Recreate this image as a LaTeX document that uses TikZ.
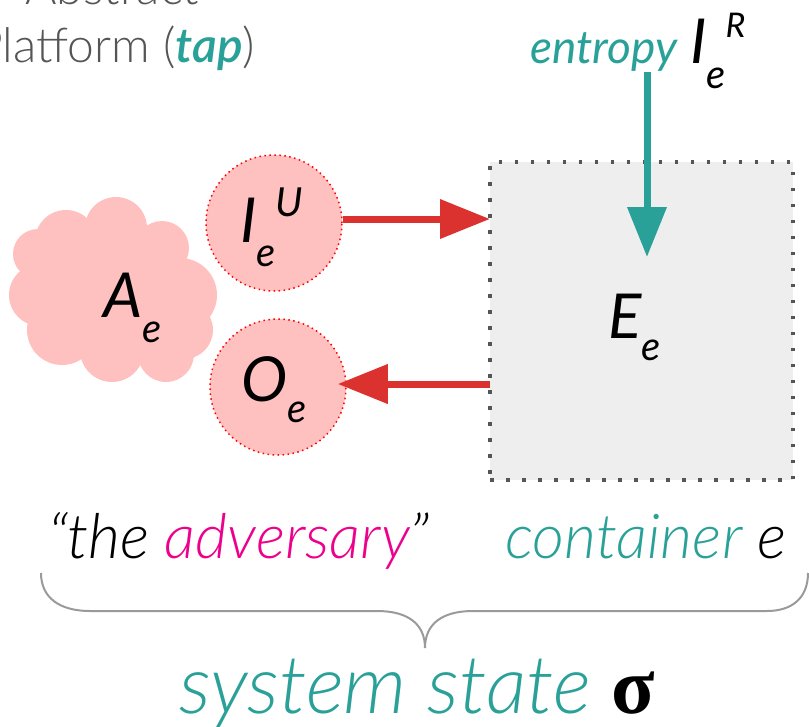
\documentclass[tikz,border=0pt]{standalone}
\usepackage{fontspec}
\setmainfont{Lato}
\newfontfamily\lightfont{Lato Light}
\newfontfamily\lightit{Lato Light Italic}
\newfontfamily\serifsym{Liberation Serif}
\usetikzlibrary{arrows.meta,fit}

\definecolor{tealc}{HTML}{2AA198}
\definecolor{redc}{HTML}{DC322F}
\definecolor{magc}{HTML}{EC008C}
\definecolor{pinkc}{HTML}{FFC0C0}
\definecolor{boxfill}{HTML}{EEEEEE}
\definecolor{dotgray}{HTML}{555555}
\definecolor{textgray}{HTML}{555555}
\definecolor{bracegray}{HTML}{9A9A9A}

% symbol with sub- and superscript set one after the other
\newcommand\fsz[1]{\fontsize{#1}{#1}\selectfont}
\newcommand\symb[5]{{\itshape\fsz{62}#1\fsz{40}\raisebox{-#2}{#3}\fsz{#5}\raisebox{26pt}{#4}}}

\begin{document}
\begin{tikzpicture}[x=1pt,y=-1pt,
  txt/.style={inner sep=0,outer sep=0,anchor=base west},
  bubble/.style={circle,fill=pinkc,draw=red,line width=1.5pt,
    dash pattern=on 1.5pt off 3.5pt,minimum size=136pt,inner sep=0},
  flow/.style={line width=7pt,-{Triangle[length=50pt,width=38pt]}},
  puff/.style={fill=pinkc,draw=none},
  container/.style={rectangle,fill=boxfill,draw=dotgray,line width=3.5pt,
    dash pattern=on 3.5pt off 12.5pt,inner sep=0,outer sep=0}]
\useasboundingbox (0,0) rectangle (809,726);
\clip (0,0) rectangle (809,726);

% title of the platform
\node[txt,anchor=base east,text=textgray] (abs) at (199,4) {\lightfont\fsz{48}Abstract};
\node[txt,anchor=base east,text=textgray] (plat) at (255,62)
  {\lightfont\fsz{48}Platform (\textcolor{tealc}{\bfseries\itshape tap})};

% the adversary cloud
\fill[puff] (112,292) ellipse [x radius=82, y radius=66];
\foreach \cx/\cy/\r in {38/254/25, 66/241/31, 116/228/31, 162/248/27,
  180/295/37, 184/330/29, 166/354/28, 112/350/32, 62/330/35, 40/295/31}
  \fill[puff] (\cx,\cy) circle[radius=\r];
\node[txt] (ae) at (103,317) {\symb{A}{25pt}{e}{}{40}};

% input and output of the adversary
\node[bubble] (iu) at (274,223) {};
\node[bubble] (oe) at (278,387) {};
\node[txt] (iul) at (240,242) {\symb{I}{24pt}{e}{U}{40}};
\node[txt] (oel) at (241,401) {\symb{O}{21pt}{e}{}{40}};

% container
\coordinate (boxnw) at (490,162);
\coordinate (boxse) at (793,480);
\node[container,fit=(boxnw)(boxse)] (box) {};
\node[txt] (eel) at (608,338) {\symb{E}{22pt}{e}{}{40}};

% entropy source
\node[txt,text=tealc] (ent) at (530,63) {\itshape\fsz{46}entropy};
\node[txt] (ir) at (690,63) {\symb{I}{25pt}{e}{R}{34}};
\coordinate (entsrc) at (647,72);
\coordinate (entin) at (647,257);
\draw[flow,tealc] (entsrc) -- (entin);

% red flows between adversary and container
\draw[flow,redc] ([yshift=4pt]iu.east) -- ([yshift=4pt]box.west |- iu.east);
\draw[flow,redc] (box.west |- 0,384) -- ([xshift=-9pt]oe.east |- 0,384);

% captions
\node[txt] (advl) at (48,558)
  {\lightit\fsz{62}“the \textcolor{magc}{adversary}”};
\node[txt] (conl) at (505,558)
  {\lightit\fsz{62}\textcolor{tealc}{container} e};

% brace
\coordinate (bl) at (41,573);
\coordinate (br) at (808,573);
\coordinate (btip) at (425,648);
\draw[bracegray,line width=2pt]
  (bl) .. controls (41,598) and (60,611) .. (90,611) -- (377,611)
  .. controls (408,611) and (425,624) .. (btip)
  .. controls (425,624) and (442,611) .. (473,611) -- (767,611)
  .. controls (792,611) and (808,598) .. (br);

\node[txt] (sys) at (179,713)
  {\lightit\fsz{81}\textcolor{tealc}{system state} {\serifsym\bfseries\fsz{80}σ}};
\end{tikzpicture}
\end{document}
